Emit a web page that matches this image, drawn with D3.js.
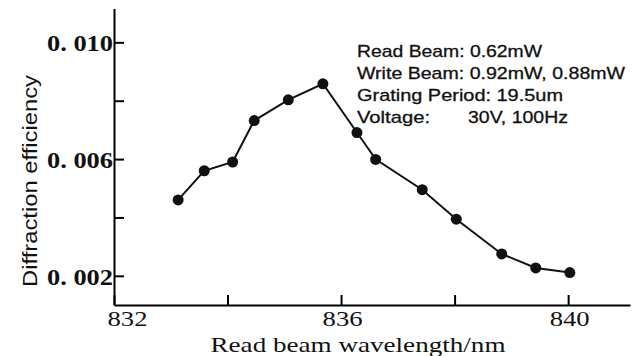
<!DOCTYPE html>
<html>
<head>
<meta charset="utf-8">
<script src="https://cdn.jsdelivr.net/npm/d3@7"></script>
<style>
  body { margin: 0; background: #fff; }
  svg { display: block; }
</style>
</head>
<body>
<svg id="main" width="640" height="356"></svg>
<script>
// data
const wavelength = [833.13, 833.59, 834.09, 834.47, 835.07, 835.68, 836.28, 836.61, 837.43, 838.03, 838.83, 839.43, 840.03];
const efficiency = [0.00460, 0.00560, 0.00590, 0.00732, 0.00803, 0.00858, 0.00691, 0.00599, 0.00495, 0.00394, 0.00275, 0.00227, 0.00211];
const xTicks = [832, 834, 836, 838, 840];
const xLabels = {832: "832", 836: "836", 840: "840"};
const yTicks = [0.002, 0.004, 0.006, 0.008, 0.010];
const yLabels = {0.002: "0. 002", 0.006: "0. 006", 0.010: "0. 010"};
const notes = ["Read Beam: 0.62mW", "Write Beam: 0.92mW, 0.88mW", "Grating Period: 19.5um", "Voltage:"];
const voltage = "30V, 100Hz";

const svg = d3.select("svg#main");

const x = d3.scaleLinear().domain([832, 841.09]).range([114, 630]);
const y = d3.scaleLinear().domain([0.001, 0.01116]).range([305, 8.5]);

// y axis, ticks point inward
const gy = svg.append("g")
    .attr("transform", "translate(114,0)")
    .call(d3.axisLeft(y).tickValues(yTicks).tickSize(-10).tickSizeOuter(0).tickPadding(1)
        .tickFormat(d => yLabels[d] || ""));
gy.select(".domain").attr("stroke-width", 2);
gy.selectAll(".tick line").attr("stroke-width", 2);
gy.selectAll(".tick text")
    .attr("font-family", "'Liberation Serif', serif")
    .attr("font-weight", "bold")
    .attr("font-size", 24)
    .attr("fill", "#111")
    .attr("dy", "0.36em")
    .filter(d => yLabels[d])
    .attr("textLength", 66)
    .attr("lengthAdjust", "spacingAndGlyphs");

// x axis
const gx = svg.append("g")
    .attr("transform", "translate(0,305)")
    .call(d3.axisBottom(x).tickValues(xTicks).tickSize(-10).tickSizeOuter(0).tickPadding(5)
        .tickFormat(d => xLabels[d] || ""));
gx.select(".domain").attr("stroke-width", 2);
gx.selectAll(".tick line").attr("stroke-width", 2);
gx.selectAll(".tick text")
    .attr("font-family", "'Liberation Serif', serif")
    .attr("font-size", 22)
    .attr("fill", "#111")
    .attr("dx", (d, i) => i === 0 ? 13 : 1)
    .filter(d => xLabels[d])
    .attr("textLength", 40)
    .attr("lengthAdjust", "spacingAndGlyphs");

// axis titles
svg.append("text")
    .attr("x", 358)
    .attr("y", 352)
    .attr("text-anchor", "middle")
    .attr("font-family", "'Liberation Serif', serif")
    .attr("font-size", 22)
    .attr("fill", "#111")
    .attr("textLength", 295)
    .attr("lengthAdjust", "spacingAndGlyphs")
    .text("Read beam wavelength/nm");

svg.append("text")
    .attr("transform", "translate(37,181) rotate(-90)")
    .attr("text-anchor", "middle")
    .attr("font-family", "'Liberation Sans', sans-serif")
    .attr("font-size", 20)
    .attr("fill", "#111")
    .attr("textLength", 212)
    .attr("lengthAdjust", "spacingAndGlyphs")
    .text("Diffraction efficiency");

// data line + markers
const line = d3.line().x((d, i) => x(wavelength[i])).y(d => y(d));
svg.append("path")
    .datum(efficiency)
    .attr("d", line)
    .attr("fill", "none")
    .attr("stroke", "#111")
    .attr("stroke-width", 2);

svg.append("g")
    .selectAll("circle")
    .data(efficiency)
    .enter()
    .append("circle")
    .attr("cx", (d, i) => x(wavelength[i]))
    .attr("cy", d => y(d))
    .attr("r", 5.5)
    .attr("fill", "#111");

// annotation block
const noteWidths = [185, 268, 206, 73];
svg.append("g")
    .selectAll("text")
    .data(notes)
    .enter()
    .append("text")
    .attr("x", 357)
    .attr("y", (d, i) => 57 + i * 22)
    .attr("font-family", "'Liberation Sans', sans-serif")
    .attr("font-size", 17)
    .attr("fill", "#111")
    .attr("stroke", "#111")
    .attr("stroke-width", 0.3)
    .attr("textLength", (d, i) => noteWidths[i])
    .attr("lengthAdjust", "spacingAndGlyphs")
    .text(d => d);

svg.append("text")
    .attr("x", 468)
    .attr("y", 123)
    .attr("font-family", "'Liberation Sans', sans-serif")
    .attr("font-size", 17)
    .attr("fill", "#111")
    .attr("stroke", "#111")
    .attr("stroke-width", 0.3)
    .attr("textLength", 100)
    .attr("lengthAdjust", "spacingAndGlyphs")
    .text(voltage);
</script>
</body>
</html>
